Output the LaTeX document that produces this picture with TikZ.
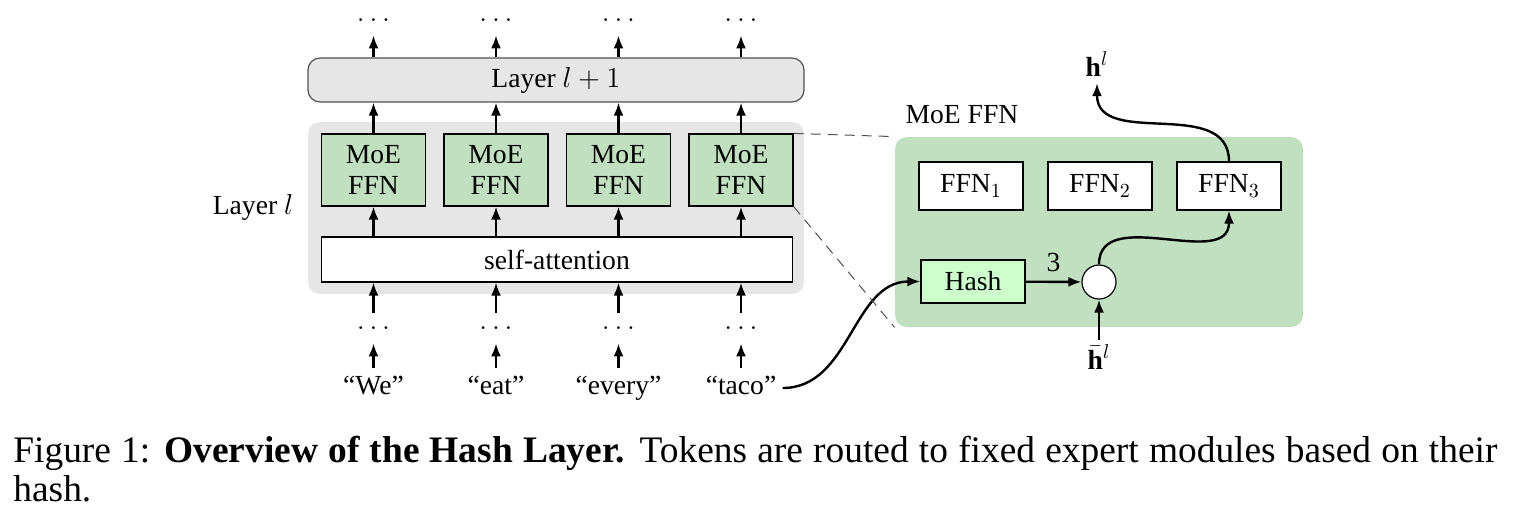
\documentclass[tikz,border=0pt]{standalone}
\usepackage{fontspec}
\setmainfont{Liberation Serif}
\usetikzlibrary{arrows.meta}
\definecolor{bggray}{RGB}{230,230,230}
\definecolor{moegreen}{RGB}{192,224,192}
\definecolor{hashgreen}{RGB}{204,255,204}
\definecolor{edgegray}{RGB}{80,80,80}
\tikzset{
  dfont/.style={font=\fontsize{13.8}{15.5}\selectfont},
  arr/.style={line width=1.2pt,-{Latex[length=6.5pt,width=5pt]}},
  moebox/.style={draw,line width=0.6pt,fill=moegreen,minimum width=52pt,minimum height=36pt,inner sep=0pt,align=center,dfont},
  ffnbox/.style={draw,line width=0.6pt,fill=white,minimum width=52pt,minimum height=24pt,inner sep=0pt,dfont},
  dotsnode/.style={inner sep=0pt,minimum height=15pt,text height=1pt,text depth=0pt,dfont},
  wordnode/.style={inner sep=0pt,inner xsep=3pt,minimum height=19.5pt,text height=9pt,text depth=2.5pt,dfont},
  lbl/.style={dfont},
  zoomline/.style={dashed,dash pattern=on 5pt off 3.5pt,line width=0.5pt,draw=edgegray}
}
\begin{document}
\begin{tikzpicture}[x=0.5pt,y=-0.5pt]
\useasboundingbox (0,0) rectangle (1519,520);
% layer l background
\node[fill=bggray,rounded corners=6pt,minimum width=248pt,minimum height=86pt,inner sep=0pt] (bg) at (556,208) {};
% layer l+1
\node[draw=edgegray,line width=0.6pt,fill=bggray,rounded corners=6pt,minimum width=248pt,minimum height=22pt,inner sep=0pt,dfont] (L1) at (556,80) {Layer $l+1$};
% MoE FFN boxes
\node[moebox] (m1) at (373.5,170) {MoE\\FFN};
\node[moebox] (m2) at (496,170) {MoE\\FFN};
\node[moebox] (m3) at (618.5,170) {MoE\\FFN};
\node[moebox] (m4) at (741,170) {MoE\\FFN};
% self-attention
\node[draw,line width=0.6pt,fill=white,minimum width=235.5pt,minimum height=22.5pt,inner sep=0pt,dfont] (sa) at (557,259.5) {self-attention};
\node[lbl] (layl) at (253,207) {Layer $l$};
% dots
\foreach \i/\x in {1/373.5,2/496,3/618.5,4/741}{
  \node[dotsnode] (dt\i) at (\x,20) {$\ldots$};
  \node[dotsnode] (dm\i) at (\x,328) {$\ldots$};
}
\node[wordnode] (w1) at (373.5,388) {``We''};
\node[wordnode] (w2) at (496,388) {``eat''};
\node[wordnode] (w3) at (618.5,388) {``every''};
\node[wordnode] (w4) at (741,388) {``taco''};
% column arrows
\foreach \i in {1,2,3,4}{
  \draw[arr] (dt\i.south |- L1.north) -- (dt\i.south);
  \draw[arr] (m\i.north) -- (m\i.north |- L1.south);
  \draw[arr] (m\i.south |- sa.north) -- (m\i.south);
  \draw[arr] (dm\i.north) -- (dm\i.north |- sa.south);
  \draw[arr] (w\i.north) -- (dm\i.south);
}
% right part
\node[fill=moegreen,rounded corners=6pt,minimum width=204pt,minimum height=95pt,inner sep=0pt] (green) at (1099,232) {};
\node[lbl] (moelbl) at (962,115) {MoE FFN};
\node[ffnbox] (f1) at (971,186) {FFN$_1$};
\node[ffnbox] (f2) at (1100,186) {FFN$_2$};
\node[ffnbox] (f3) at (1229,186) {FFN$_3$};
\node[draw,line width=0.6pt,fill=hashgreen,minimum width=52pt,minimum height=21.5pt,inner sep=0pt,dfont] (hash) at (973,281.5) {Hash};
\node[draw,line width=0.6pt,fill=white,circle,minimum size=17pt,inner sep=0pt] (circ) at (1099,282) {};
\node[lbl,inner sep=2pt] (hbar) at (1099,357) {$\bar{\mathbf{h}}^l$};
\node[lbl] (hl) at (1097,64) {$\mathbf{h}^l$};
\draw[arr] (hash) -- node[above=4.5pt,lbl,pos=0.5,inner sep=0pt] (three) {3} (circ);
\draw[arr] (hbar.north) -- (circ.south);
\draw[arr] (circ.north) to[out=90,in=-90,looseness=1.1] (f3.south);
\draw[arr] (f3.north) to[out=90,in=-90,looseness=1.1] (hl.south);
\draw[arr] (w4.east) to[out=0,in=180] (hash.west);
% zoom lines
\draw[zoomline] (m4.north east) -- (green.north west);
\draw[zoomline] (m4.south east) -- (green.south west);
% caption
\node[anchor=base west,inner sep=0pt,font=\fontsize{18.7}{20.5}\selectfont] (cap1) at (13,462) {\makebox[742pt][s]{Figure 1: \textbf{Overview of the Hash Layer.} Tokens are routed to fixed expert modules based on their}};
\node[anchor=base west,inner sep=0pt,font=\fontsize{18.7}{20.5}\selectfont] (cap2) at (13,501) {hash.};
\end{tikzpicture}
\end{document}
